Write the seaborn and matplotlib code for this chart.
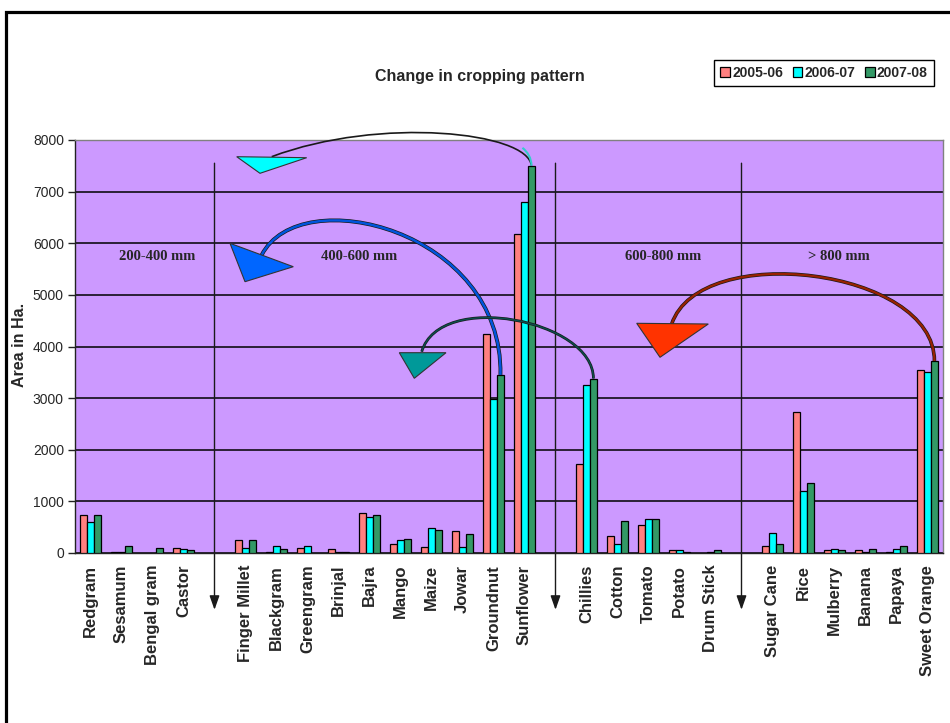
import matplotlib
matplotlib.use("Agg")
import matplotlib.pyplot as plt
import matplotlib.font_manager as fm
import matplotlib.patheffects as pe
from matplotlib.patches import Polygon, PathPatch, Patch
from matplotlib.path import Path
from matplotlib.lines import Line2D
import numpy as np
import pandas as pd
import seaborn as sns

# ---- data: area (Ha.) by crop, grouped into rainfall zones (None = spacer slot) ----
crops = ["Redgram", "Sesamum", "Bengal gram", "Castor", None,
         "Finger Millet", "Blackgram", "Greengram", "Brinjal", "Bajra",
         "Mango", "Maize", "Jowar", "Groundnut", "Sunflower", None,
         "Chillies", "Cotton", "Tomato", "Potato", "Drum Stick", None,
         "Sugar Cane", "Rice", "Mulberry", "Banana", "Papaya", "Sweet Orange"]
area_2005_06 = [740, 20, 0, 100, None,
                250, 20, 100, 80, 780,
                180, 120, 430, 4250, 6180, None,
                1720, 320, 550, 50, 0, None,
                130, 2740, 50, 50, 10, 3550]
area_2006_07 = [600, 20, 0, 80, None,
                100, 130, 130, 10, 700,
                250, 480, 120, 2980, 6800, None,
                3250, 170, 650, 50, 20, None,
                380, 1200, 80, 20, 80, 3510]
area_2007_08 = [740, 130, 100, 50, None,
                250, 80, 0, 10, 730,
                280, 450, 370, 3450, 7500, None,
                3380, 620, 650, 20, 50, None,
                180, 1360, 50, 80, 130, 3720]
seasons = ["2005-06", "2006-07", "2007-08"]
season_colors = ["#FF8080", "#00FFFF", "#339966"]
zone_labels = ["200-400 mm", "400-600 mm", "600-800 mm", "> 800 mm"]

# ---- fonts ----
sns.set_style("white")
installed = {f.name for f in fm.fontManager.ttflist}
narrow = "Liberation Sans Narrow" if "Liberation Sans Narrow" in installed else "Liberation Sans"
serif = "Liberation Serif" if "Liberation Serif" in installed else "DejaVu Serif"
plt.rcParams["font.family"] = [narrow, "DejaVu Sans"]

# ---- long-form table ----
slots = [c if c is not None else f"_gap{i}" for i, c in enumerate(crops)]
rows = []
for season, values in zip(seasons, [area_2005_06, area_2006_07, area_2007_08]):
    for slot, v in zip(slots, values):
        if v is not None and v > 0:
            rows.append({"slot": slot, "season": season, "area": v})
df = pd.DataFrame(rows)

W, H = 950, 723
fig = plt.figure(figsize=(W / 100, H / 100), dpi=100)
fig.patch.set_facecolor("white")


def fpos(px, py):
    """Canvas pixel (from top-left) -> figure fraction."""
    return px / W, 1 - py / H


x0, y0 = fpos(75, 553)
ax = fig.add_axes([x0, y0, 868 / W, 413 / H])
ax.set_facecolor("#CC99FF")

bar_width = 0.67
sns.barplot(data=df, x="slot", y="area", hue="season", order=slots,
            hue_order=seasons, palette=season_colors, width=bar_width, gap=0,
            edgecolor="black", linewidth=0.9, errorbar=None, legend=False,
            saturation=1, ax=ax, zorder=3)

ax.set_xlim(-0.5, len(slots) - 0.5)
ax.set_ylim(0, 8000)
ax.set_yticks(np.arange(0, 8001, 1000))
ax.yaxis.grid(True, color="black", linewidth=1.1)
ax.set_axisbelow(True)
ax.set_xlabel("")
ax.set_ylabel("")

for side in ["top", "right"]:
    ax.spines[side].set_color("#808080")
    ax.spines[side].set_linewidth(1.0)
for side in ["left", "bottom"]:
    ax.spines[side].set_color("#222222")
    ax.spines[side].set_linewidth(1.0)

ax.set_xticks(range(len(slots)))
ax.set_xticklabels([c if c is not None else "" for c in crops], rotation=90,
                   fontsize=12, fontweight="bold", va="top", ha="center")
ax.set_xticks(np.arange(-0.5, len(slots), 1), minor=True)
ax.tick_params(axis="x", which="major", length=0, pad=8.5)
ax.tick_params(axis="x", which="minor", length=4, width=1, direction="out", color="#222222")
ax.tick_params(axis="y", which="major", length=5, width=1, direction="out",
               labelsize=10, pad=3, color="#222222", left=True)

# ---- title, axis label, legend ----
fig.text(*fpos(480, 76), "Change in cropping pattern", ha="center", va="center",
         fontsize=11.5, fontweight="bold")
fig.text(*fpos(20, 345), "Area in Ha.", ha="center", va="center", rotation=90,
         fontsize=11.5, fontweight="bold")
handles = [Patch(facecolor=c, edgecolor="black", linewidth=0.9) for c in season_colors]
leg = fig.legend(handles, seasons, loc="center", bbox_to_anchor=fpos(824, 73), ncol=3,
                 frameon=True, fancybox=False, edgecolor="black", framealpha=1,
                 handlelength=0.7, handleheight=0.7, handletextpad=0.15,
                 columnspacing=0.7, borderpad=0.45,
                 prop={"family": [narrow, "DejaVu Sans"], "weight": "bold", "size": 10})
leg.get_frame().set_linewidth(1.0)

# ---- zone separators (arrows running down into the label strip) ----
gap_idx = [i for i, c in enumerate(crops) if c is None]
for gi in gap_idx:
    ax.annotate("", xy=(gi, -1100), xytext=(gi, 7550), xycoords="data",
                arrowprops=dict(arrowstyle="-|>,head_length=0.85,head_width=0.3",
                                color="#1a1a1a", lw=1.0, shrinkA=0, shrinkB=0,
                                mutation_scale=10),
                annotation_clip=False, zorder=2)

# ---- zone captions ----
zone_x = [2.15, 8.66, 18.47, 24.15]
for zx, lab in zip(zone_x, zone_labels):
    ax.text(zx, 5750, lab, ha="center", va="center", fontsize=10.5,
            fontweight="bold", family=serif, zorder=4)

# ---- curved shift arrows: from a crop's latest bar back toward a lower-rainfall zone ----
green_offset = bar_width / 3


def bar_top_px(name, value):
    """Pixel position (from top-left) of the top-centre of a 2007-08 bar."""
    i = crops.index(name)
    disp = ax.transData.transform((i + green_offset, value))
    return disp[0], H - disp[1]


def curve(p0, p1, p2, p3, color, lw, outline):
    verts = [fpos(*p) for p in (p0, p1, p2, p3)]
    path = Path(verts, [Path.MOVETO, Path.CURVE4, Path.CURVE4, Path.CURVE4])
    patch = PathPatch(path, facecolor="none", edgecolor=color, linewidth=lw,
                      transform=fig.transFigure, zorder=5, capstyle="butt")
    if outline:
        patch.set_path_effects([pe.Stroke(linewidth=lw + 1.0, foreground="#1a1a1a"),
                                pe.Normal()])
    fig.add_artist(patch)


def head(points, color):
    tri = Polygon([fpos(*p) for p in points], closed=True, facecolor=color,
                  edgecolor="#333333", linewidth=0.8, transform=fig.transFigure,
                  zorder=6)
    fig.add_artist(tri)


fig.canvas.draw()

# Sunflower -> 400-600 mm
s = bar_top_px("Sunflower", area_2007_08[crops.index("Sunflower")])
curve(s, (s[0] - 3, 132), (380, 116), (271.7, 156.7), "#1a1a1a", 1.2, False)
curve(s, (s[0], s[1] - 8), (s[0] - 4, s[1] - 14), (s[0] - 9, s[1] - 18), "#33CCCC", 1.5, False)
head([(236.7, 156.7), (306.7, 157.7), (260, 173.3)], "#00FFFF")

# Groundnut -> 200-400 mm
g = bar_top_px("Groundnut", area_2007_08[crops.index("Groundnut")])
curve(g, (g[0] + 3, 230), (300, 180), (261.7, 255), "#0055DD", 1.8, True)
head([(230, 243.3), (293.3, 266.7), (245, 281.7)], "#0066FF")

# Chillies -> 400-600 mm
c = bar_top_px("Chillies", area_2007_08[crops.index("Chillies")])
curve(c, (c[0], 320), (440, 290), (421.7, 351.7), "#0B4F4F", 1.0, True)
head([(399.3, 352.7), (446, 352.7), (414.3, 378.3)], "#009999")

# Sweet Orange -> 600-800 mm
o = bar_top_px("Sweet Orange", area_2007_08[crops.index("Sweet Orange")])
curve(o, (o[0], 268), (700, 240), (671.7, 324), "#992200", 1.6, True)
head([(636.7, 323.3), (708.3, 324), (660, 357.3)], "#FF3300")

# ---- outer frame ----
frame = Line2D([5.5 / W, 5.5 / W, 1.0], [0.0, 1 - 11.5 / H, 1 - 11.5 / H],
               transform=fig.transFigure, color="black", linewidth=2.3,
               solid_joinstyle="miter")
fig.add_artist(frame)

fig.savefig("out.png", dpi=100, facecolor="white")
